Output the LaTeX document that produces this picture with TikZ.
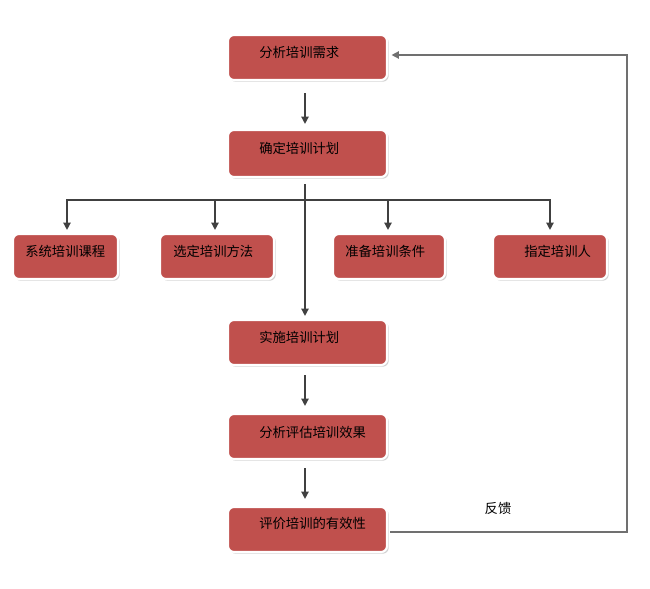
\documentclass[tikz,border=0pt]{standalone}
\usepackage{fontspec}
\newfontfamily\cjk{Noto Sans CJK SC}
\usetikzlibrary{arrows.meta,shadows,calc}
\definecolor{boxred}{HTML}{C0504D}
\definecolor{linegray}{HTML}{404040}
\definecolor{fbgray}{HTML}{707070}
\begin{document}
\begin{tikzpicture}[x=0.75pt,y=-0.75pt,
  box/.style={draw=white, line width=1.6pt, fill=boxred, rounded corners=4.5pt,
    drop shadow={shadow xshift=1.3pt, shadow yshift=-1.3pt, opacity=0.35},
    inner sep=0pt, minimum height=33.75pt},
  mainbox/.style={box, minimum width=119.25pt},
  lbl/.style={font=\cjk\fontsize{10}{12}\selectfont, anchor=west, inner sep=0pt, text=black},
  arr/.style={draw=linegray, line width=1.1pt, -{Triangle[width=5.5pt,length=5.5pt]}}]
\useasboundingbox (0,0) rectangle (650,589);

% main column boxes
\node[mainbox] (b1) at (307.5,57.5) {};
\node[mainbox, minimum height=35.25pt] (b2) at (307.5,153.5) {};
\node[mainbox] (b3) at (307.5,342.5) {};
\node[mainbox] (b4) at (307.5,436.5) {};
\node[mainbox] (b5) at (307.5,529.5) {};
% row boxes
\node[box, minimum width=78.75pt] (r1) at (65.5,256.5) {};
\node[box, minimum width=85.5pt] (r2) at (217,256.5) {};
\node[box, minimum width=84pt] (r3) at (389,256.5) {};
\node[box, minimum width=85.5pt] (r4) at (550,256.5) {};

% labels
\node[lbl] (t1) at (259,52.5) {分析培训需求};
\node[lbl] (t2) at (259,148.5) {确定培训计划};
\node[lbl] (t3) at (259,337) {实施培训计划};
\node[lbl] (t4) at (259,432) {分析评估培训效果};
\node[lbl] (t5) at (259,523) {评价培训的有效性};
\node[lbl] (tr1) at (25,251) {系统培训课程};
\node[lbl] (tr2) at (173,251) {选定培训方法};
\node[lbl] (tr3) at (345,251) {准备培训条件};
\node[lbl] (tr4) at (524,251) {指定培训人};
\node[lbl, anchor=center] (tfb) at (498,508) {反馈};

% connectors
\draw[arr] ($(b1.south)+(-2.5,12)$) -- ($(b2.north)+(-2.5,-5)$);
\draw[arr] ($(b2.south)+(-2.5,6)$) -- ($(b3.north)+(-2.5,-3)$);
\coordinate (j) at ($(b2.south)+(-2.5,22)$);
\draw[arr] (j) -| ($(r1.north)+(1.5,-3)$);
\draw[arr] (j) -| ($(r2.north)+(-2,-3)$);
\draw[arr] (j) -| ($(r3.north)+(-1,-3)$);
\draw[arr] (j) -| ($(r4.north)+(0,-3)$);
\draw[arr] ($(b3.south)+(-2.5,9)$) -- ($(b4.north)+(-2.5,-7)$);
\draw[arr] ($(b4.south)+(-2.5,8)$) -- ($(b5.north)+(-2.5,-7)$);
% feedback loop
\coordinate (fc) at ($(b1.east)+(239,-2.5)$);
\draw[arr, draw=fbgray] ($(b5.east)+(2,2.5)$) -| (fc) -- ($(b1.east)+(3.5,-2.5)$);
\end{tikzpicture}
\end{document}
